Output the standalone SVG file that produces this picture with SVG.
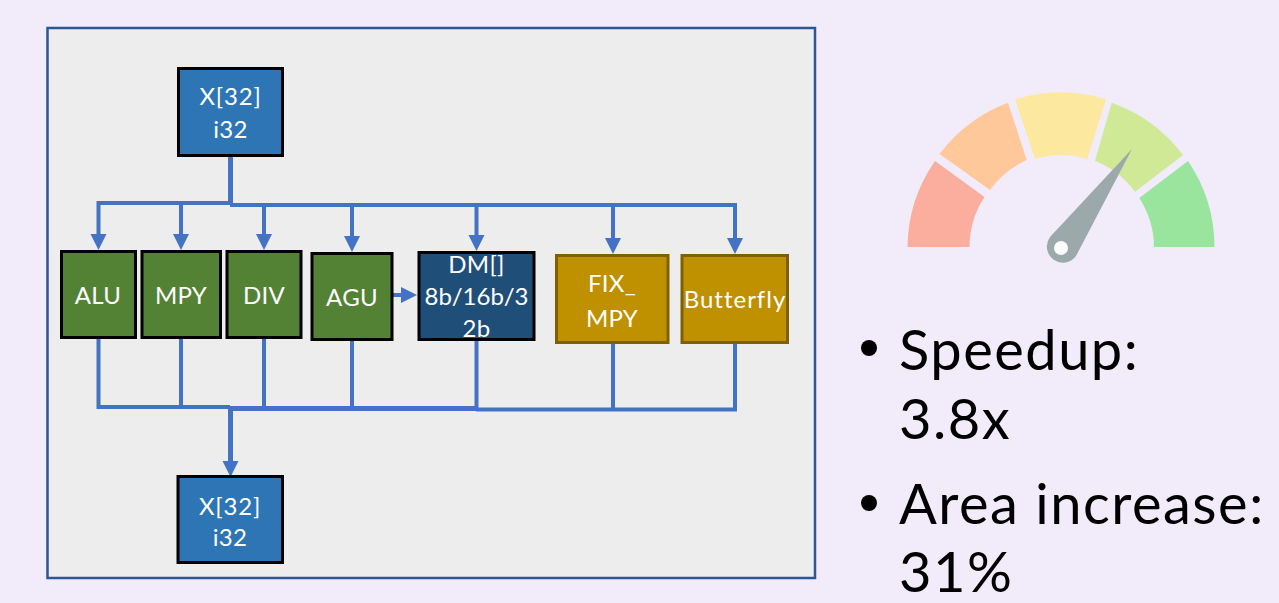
<svg xmlns="http://www.w3.org/2000/svg" width="1279" height="603" viewBox="0 0 1279 603">
<style>
text{font-family:"Lato","Liberation Sans",sans-serif;fill:#fff;text-anchor:middle;font-size:24px;letter-spacing:.3px}
.big{fill:#000;text-anchor:start;font-size:56px;letter-spacing:1.5px}
.g{fill:#548235;stroke:#000;stroke-width:3}
.b{fill:#2e75b6;stroke:#000;stroke-width:3}
.d{fill:#1f4e79;stroke:#000;stroke-width:3}
.y{fill:#bf9000;stroke:#7f6000;stroke-width:3}
#connectors path{fill:none;stroke:#4472c4;stroke-width:4}
#connectors .t{stroke-width:5}
</style>
<defs><marker id="a" markerUnits="userSpaceOnUse" markerWidth="17" markerHeight="17" refX="2" refY="8.500" orient="auto"><path d="M0 0.500L16 8.500L0 16.500Z" fill="#4472c4"/></marker></defs>
<rect width="1279" height="603" fill="#f1ebfa"/>
<rect x="47.500" y="28" width="767.500" height="550" fill="#ededed" stroke="#2f5597" stroke-width="2.500"/>
<g id="connectors">
<path class="t" d="M230.500 156V205"/>
<path d="M230 203H98.500V236" marker-end="url(#a)"/>
<path d="M181 203V236" marker-end="url(#a)"/>
<path d="M230 205H735V240" marker-end="url(#a)"/>
<path d="M264 205V236" marker-end="url(#a)"/>
<path d="M352 205V238" marker-end="url(#a)"/>
<path d="M476.500 205V237" marker-end="url(#a)"/>
<path d="M613 205V240" marker-end="url(#a)"/>
<path d="M393 295H403" marker-end="url(#a)"/>
<path d="M98.500 338V407H230"/>
<path d="M181 338V407"/>
<path d="M264 338V408"/>
<path d="M352 340V408"/>
<path d="M476.500 340V408"/>
<path class="t" d="M230 408.500H476"/>
<path d="M476 409.500H735V343"/>
<path d="M613 343V409"/>
<path class="t" d="M230.500 408V463" marker-end="url(#a)"/>
</g>
<g id="x-top"><rect class="b" x="178.500" y="68.500" width="104" height="87"/><text x="230.500" y="105" style="letter-spacing:.8px">X[32]</text><text x="230.500" y="137.500">i32</text></g>
<g id="alu"><rect class="g" x="61.500" y="251.500" width="74" height="86"/><text x="98" y="304">ALU</text></g>
<g id="mpy"><rect class="g" x="142" y="251.500" width="78.500" height="86"/><text x="181" y="304">MPY</text></g>
<g id="div"><rect class="g" x="227" y="251.500" width="74" height="86"/><text x="264" y="304">DIV</text></g>
<g id="agu"><rect class="g" x="312" y="253.500" width="80" height="86"/><text x="352" y="306">AGU</text></g>
<g id="dm"><rect class="d" x="419" y="252.500" width="115" height="87"/><text x="476.500" y="273">DM[]</text><text x="476.500" y="305" style="letter-spacing:0">8b/16b/3</text><text x="476.500" y="337">2b</text></g>
<g id="fix"><rect class="y" x="556.500" y="255.500" width="111.500" height="87"/><text x="612" y="292">FIX_</text><text x="612" y="327">MPY</text></g>
<g id="butterfly"><rect class="y" x="682" y="255.500" width="105.500" height="87"/><text x="735" y="308" style="letter-spacing:1px">Butterfly</text></g>
<g id="x-bottom"><rect class="b" x="178" y="476.500" width="104.500" height="86"/><text x="230" y="515" style="letter-spacing:.8px">X[32]</text><text x="230" y="545.500">i32</text></g>
<g id="gauge">
<path d="M907.500 247A153.500 153.500 0 0 1 935 161L984.500 197A92 92 0 0 0 969.500 247Z" fill="#fbae9d"/>
<path d="M939.500 154A153.500 153.500 0 0 1 1008 102.700L1026.700 160A92 92 0 0 0 990 190Z" fill="#fec89a"/>
<path d="M1015 99.300A153.500 153.500 0 0 1 1106 99.300L1087.300 159A92 92 0 0 0 1035 159Z" fill="#fde8a0"/>
<path d="M1111.700 102.700A153.500 153.500 0 0 1 1183 155L1135 191.700A92 92 0 0 0 1095 160.700Z" fill="#d0e996"/>
<path d="M1188 161A153.500 153.500 0 0 1 1214.500 247H1154A92 92 0 0 0 1139.300 198Z" fill="#9ae59e"/>
<path d="M1132 149L1076 256A15.500 15.500 0 1 1 1050 237Z" fill="#9ca9ab"/>
<circle cx="1061" cy="248" r="7" fill="#fbfafc"/>
</g>
<g id="notes">
<circle cx="869" cy="348" r="8" fill="#000"/><text class="big" x="899" y="370">Speedup:</text><text class="big" x="899" y="439">3.8x</text>
<circle cx="869" cy="503" r="8" fill="#000"/><text class="big" x="899" y="524">Area increase:</text><text class="big" x="899" y="592">31%</text>
</g>
</svg>
